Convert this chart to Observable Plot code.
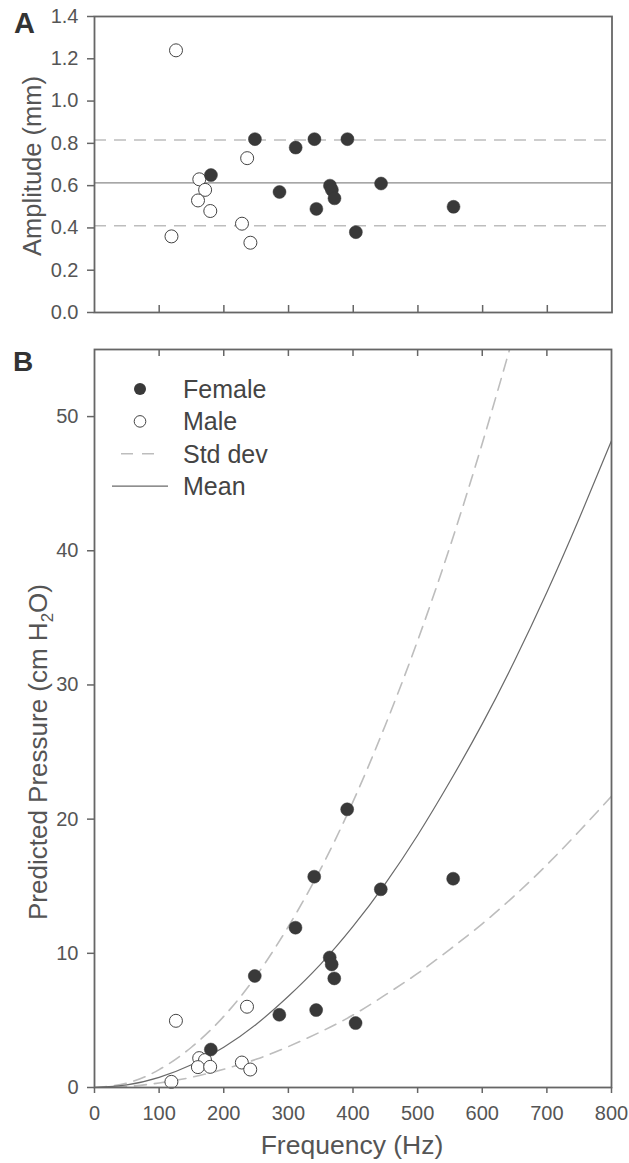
<!DOCTYPE html>
<html>
<head>
<meta charset="utf-8">
<script src="https://cdn.jsdelivr.net/npm/d3@7"></script>
<script src="https://cdn.jsdelivr.net/npm/@observablehq/plot@0.6"></script>
<style>
  html, body { margin: 0; padding: 0; background: white; }
  #wrap { position: relative; width: 629px; height: 1163px; font-family: "Liberation Sans", Arial, sans-serif; }
  #wrap svg.plot { display: block; }
  #overlay { position: absolute; left: 0; top: 0; pointer-events: none; }
</style>
</head>
<body>
<div id="wrap"></div>
<script>
// ---- Data ----
const femaleFreq     = [180, 248, 311, 286, 340, 343, 391, 364, 367, 371, 404, 443, 555];
const femaleAmp      = [0.65, 0.82, 0.78, 0.57, 0.82, 0.49, 0.82, 0.60, 0.58, 0.54, 0.38, 0.61, 0.50];
const femalePressure = [2.83, 8.31, 11.91, 5.42, 15.71, 5.77, 20.73, 9.69, 9.17, 8.13, 4.80, 14.77, 15.56];

const maleFreq     = [126, 119, 162, 171, 160, 179, 236, 228, 241];
const maleAmp      = [1.24, 0.36, 0.63, 0.58, 0.53, 0.48, 0.73, 0.42, 0.33];
const malePressure = [4.97, 0.42, 2.19, 2.04, 1.52, 1.54, 6.02, 1.86, 1.34];

const ampMeanLine = [0.613];
const ampSdLines  = [0.816, 0.41];

// Curves in panel B, read at every 50 Hz
const curveFreq     = [0, 50, 100, 150, 200, 250, 300, 350, 400, 450, 500, 550, 600, 650, 700, 750, 800];
const meanPressure  = [0, 0.19, 0.75, 1.69, 3.0, 4.7, 6.8, 9.2, 12.0, 15.2, 18.8, 22.8, 27.1, 31.8, 36.9, 42.4, 48.2];
const upperPressure = [0, 0.33, 1.33, 3.0, 5.3, 8.3, 12.0, 16.3, 21.3, 27.0, 33.3, 40.3, 48.0, 56.3];
const lowerPressure = [0, 0.08, 0.34, 0.76, 1.36, 2.1, 3.05, 4.15, 5.4, 6.9, 8.5, 10.3, 12.2, 14.3, 16.6, 19.1, 21.7];

const ampTicks       = [0, 0.2, 0.4, 0.6, 0.8, 1.0, 1.2, 1.4];
const pressureTicks  = [0, 10, 20, 30, 40, 50];
const freqTicks      = [0, 100, 200, 300, 400, 500, 600, 700, 800];
const freqInnerTicks = [100, 200, 300, 400, 500, 600, 700];
const legendItems    = ["Female", "Male", "Std dev", "Mean"];

// ---- Build tables ----
const females = femaleFreq.map((f, i) => ({f, a: femaleAmp[i], p: femalePressure[i]}));
const males   = maleFreq.map((f, i) => ({f, a: maleAmp[i], p: malePressure[i]}));
const meanCurve  = curveFreq.map((f, i) => ({f, p: meanPressure[i]}));
const upperCurve = curveFreq.slice(0, upperPressure.length).map((f, i) => ({f, p: upperPressure[i]}));
const lowerCurve = curveFreq.map((f, i) => ({f, p: lowerPressure[i]}));

const FONT = "'Liberation Sans', Arial, sans-serif";
const TEXT = "#555";
const FRAME = "#666";
const DASH = "#bdbdbd";
const DOTFILL = "#393939";
const W = 629;

// ---- Panel A ----
const aTop = 16, aBottom = 18, aH = 330;
const plotA = Plot.plot({
  width: W, height: aH,
  marginTop: aTop, marginBottom: aBottom, marginLeft: 94, marginRight: 17.5,
  style: {fontFamily: FONT, fontSize: "20px", color: TEXT, background: "white", overflow: "visible"},
  x: {domain: [0, 800], axis: null},
  y: {domain: [0, 1.4], axis: null},
  marks: [
    Plot.ruleY(ampSdLines, {stroke: DASH, strokeWidth: 1.6, strokeDasharray: "12,8"}),
    Plot.ruleY(ampMeanLine, {stroke: "#8a8a8a", strokeWidth: 1.3}),
    Plot.tickX(freqInnerTicks, {x: d => d, stroke: FRAME, strokeWidth: 1.5, insetTop: aH - aTop - aBottom - 7}),
    Plot.axisY({ticks: ampTicks, tickSize: 7, tickPadding: 9, tickFormat: d3.format(".1f"), label: null, stroke: FRAME, strokeWidth: 1.5}),
    Plot.dot(males, {x: "f", y: "a", r: 6.5, fill: "white", stroke: "#444", strokeWidth: 1}),
    Plot.dot(females, {x: "f", y: "a", r: 6.5, fill: DOTFILL, stroke: DOTFILL, strokeWidth: 0.5}),
    Plot.frame({stroke: FRAME, strokeWidth: 1.8})
  ]
});
plotA.classList.add("plot");

// ---- Panel B ----
const bTop = 19, bBottom = 76, bH = 833;
const plotB = Plot.plot({
  width: W, height: bH,
  marginTop: bTop, marginBottom: bBottom, marginLeft: 94, marginRight: 18,
  style: {fontFamily: FONT, fontSize: "20px", color: TEXT, background: "white", overflow: "visible"},
  x: {domain: [0, 800], axis: null},
  y: {domain: [0, 55], axis: null},
  marks: [
    Plot.line(upperCurve, {x: "f", y: "p", curve: "natural", stroke: DASH, strokeWidth: 1.6, strokeDasharray: "12,8", clip: true}),
    Plot.line(lowerCurve, {x: "f", y: "p", curve: "natural", stroke: DASH, strokeWidth: 1.6, strokeDasharray: "12,8", clip: true}),
    Plot.line(meanCurve, {x: "f", y: "p", curve: "natural", stroke: "#6a6a6a", strokeWidth: 1.2, clip: true}),
    Plot.tickX(freqInnerTicks, {x: d => d, stroke: FRAME, strokeWidth: 1.5, insetBottom: bH - bTop - bBottom - 7}),
    Plot.axisY({ticks: pressureTicks, tickSize: 7, tickPadding: 9, label: null, stroke: FRAME, strokeWidth: 1.5}),
    Plot.axisX({ticks: freqTicks, tickSize: 6, tickPadding: 12, label: null, stroke: FRAME, strokeWidth: 1.5}),
    Plot.dot(males, {x: "f", y: "p", r: 6.5, fill: "white", stroke: "#444", strokeWidth: 1}),
    Plot.dot(females, {x: "f", y: "p", r: 6.5, fill: DOTFILL, stroke: DOTFILL, strokeWidth: 0.5}),
    Plot.frame({stroke: FRAME, strokeWidth: 1.8})
  ]
});
plotB.classList.add("plot");

const wrap = document.getElementById("wrap");
wrap.appendChild(plotA);
wrap.appendChild(plotB);

// ---- Overlay: panel letters, axis titles, legend ----
const ov = d3.select(wrap).append("svg")
  .attr("id", "overlay").attr("width", W).attr("height", 1163)
  .style("font-family", FONT);

ov.append("text").attr("x", 14).attr("y", 33).attr("font-size", 29).attr("font-weight", "bold").attr("fill", "#333").text("A");
ov.append("text").attr("x", 13).attr("y", 371).attr("font-size", 28).attr("font-weight", "bold").attr("fill", "#333").text("B");

ov.append("text")
  .attr("transform", "translate(41,166) rotate(-90)")
  .attr("text-anchor", "middle").attr("font-size", 25.5).attr("fill", TEXT)
  .text("Amplitude (mm)");

const yb = ov.append("text")
  .attr("transform", "translate(47,752) rotate(-90)")
  .attr("text-anchor", "middle").attr("font-size", 26).attr("fill", TEXT);
yb.append("tspan").text("Predicted Pressure (cm H");
yb.append("tspan").attr("font-size", 17).attr("dy", 6).text("2");
yb.append("tspan").attr("dy", -6).text("O)");

ov.append("text")
  .attr("x", 352).attr("y", 1154)
  .attr("text-anchor", "middle").attr("font-size", 26.5).attr("fill", TEXT)
  .text("Frequency (Hz)");

// legend
const lg = ov.append("g");
legendItems.forEach((name, i) => {
  const cy = 389 + i * 32.4;
  if (i === 0) lg.append("circle").attr("cx", 140).attr("cy", cy).attr("r", 6).attr("fill", DOTFILL);
  if (i === 1) lg.append("circle").attr("cx", 140).attr("cy", cy).attr("r", 5.8).attr("fill", "white").attr("stroke", "#444").attr("stroke-width", 1);
  if (i === 2) lg.append("line").attr("x1", 121).attr("x2", 158).attr("y1", cy).attr("y2", cy).attr("stroke", DASH).attr("stroke-width", 1.6).attr("stroke-dasharray", "12,9");
  if (i === 3) lg.append("line").attr("x1", 112).attr("x2", 168).attr("y1", cy).attr("y2", cy).attr("stroke", "#6a6a6a").attr("stroke-width", 1.2);
  lg.append("text").attr("x", 183).attr("y", cy).attr("dy", "0.36em").attr("font-size", 25).attr("fill", "#444").text(name);
});
</script>
</body>
</html>
